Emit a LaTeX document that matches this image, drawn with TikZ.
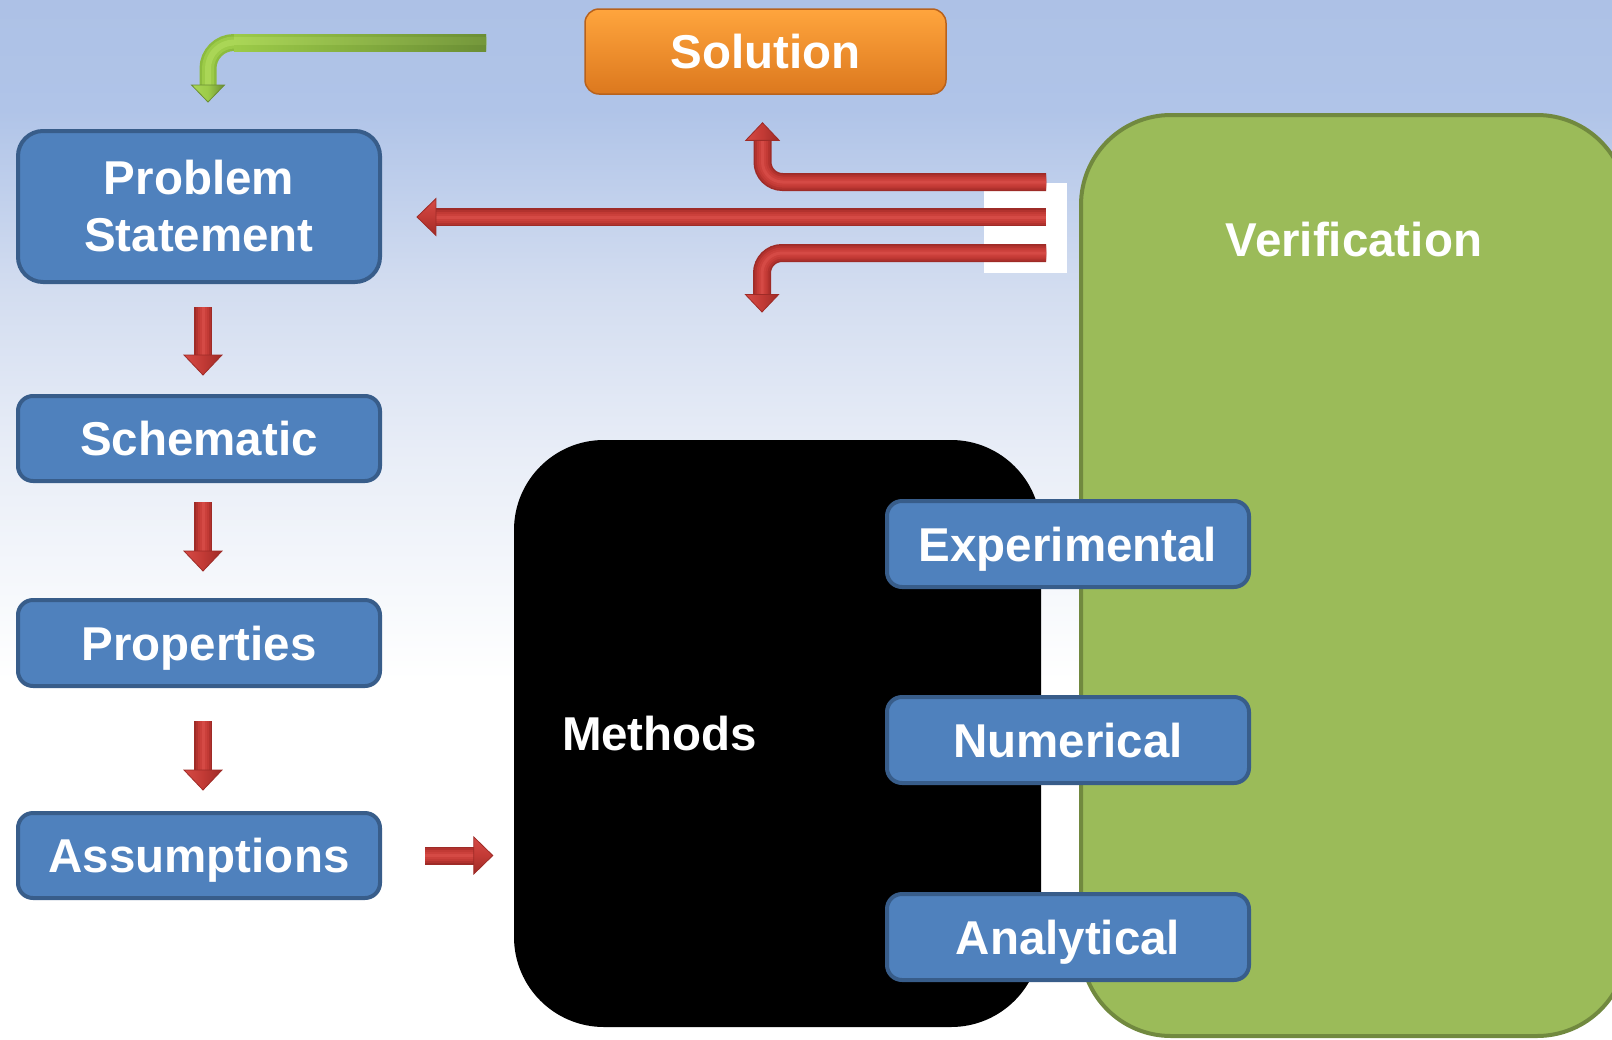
\documentclass[tikz,border=0pt]{standalone}
\usepackage{fontspec}
\setmainfont{Liberation Sans}
\usetikzlibrary{calc}

% palette
\definecolor{bgA}{HTML}{ADC1E6}
\definecolor{bgB}{HTML}{B0C4E8}
\definecolor{bgC}{HTML}{D3DDF0}
\definecolor{bgD}{HTML}{E8EDF7}
\definecolor{bgE}{HTML}{F7F9FC}
\definecolor{boxBlue}{HTML}{4F81BD}
\definecolor{boxEdge}{HTML}{385D8A}
\definecolor{verFill}{HTML}{9BBB59}
\definecolor{verEdge}{HTML}{71893F}
\definecolor{solTop}{HTML}{FFA53D}
\definecolor{solBot}{HTML}{DC781E}
\definecolor{solEdge}{HTML}{B8621C}
\definecolor{rEdge}{HTML}{9E2B27}
\definecolor{rOut}{HTML}{B2322E}
\definecolor{rMid}{HTML}{C23A35}
\definecolor{rIn}{HTML}{CB403B}
\definecolor{rHi}{HTML}{D54A45}
\definecolor{gEdge}{HTML}{8CBB3E}
\definecolor{gMid}{HTML}{9CCB48}
\definecolor{gHi}{HTML}{AAD656}
\definecolor{gDark}{HTML}{6B8E35}
\definecolor{gDarkHi}{HTML}{74973B}

\newcommand\boxfont{\bfseries\fontsize{47.5pt}{57pt}\selectfont}

\tikzset{
  box/.style={rectangle, rounded corners=15pt, fill=boxBlue, draw=boxEdge,
    line width=4pt, text=white, font=\boxfont, minimum width=362pt,
    inner sep=0pt, align=center},
  oneline/.style={text height=34pt, text depth=0pt},
  solbox/.style={rectangle, rounded corners=14pt, top color=solTop,
    bottom color=solBot, draw=solEdge, line width=1.5pt, text=white,
    font=\boxfont, minimum width=361pt, minimum height=85pt, inner sep=0pt},
  methbox/.style={rectangle, rounded corners=90pt, fill=black,
    minimum width=527pt, minimum height=587pt, text width=431pt,
    inner xsep=48pt, inner ysep=0pt, align=left, text=white, font=\boxfont},
  verbox/.style={rectangle, rounded corners=90pt, fill=verFill, draw=verEdge,
    line width=4pt, minimum width=546pt, minimum height=921pt, inner sep=0pt},
  label text/.style={text=white, font=\boxfont, inner sep=0pt},
  redtube/.style={draw=rEdge, line width=18pt, rounded corners=20pt,
    postaction={draw=rOut, line width=15pt},
    postaction={draw=rMid, line width=11pt},
    postaction={draw=rIn, line width=7pt},
    postaction={draw=rHi, line width=3pt}},
  greentube/.style={draw=gEdge, line width=17pt, rounded corners=26pt,
    postaction={draw=gMid, line width=12pt},
    postaction={draw=gHi, line width=6pt}},
  vhead/.style={left color=rHi, right color=rEdge, middle color=rMid,
    draw=rEdge, line width=0.8pt, line join=miter},
  hhead/.style={top color=rHi, bottom color=rEdge, middle color=rMid,
    draw=rEdge, line width=0.8pt, line join=miter},
  pics/headS/.style={code={\path[vhead] (0,0) -- (-19,-20) -- (19,-20) -- cycle;}},
  pics/headN/.style={code={\path[vhead] (0,0) -- (-19,20) -- (19,20) -- cycle;}},
  pics/headW/.style={code={\path[hhead] (0,0) -- (19,-18.5) -- (19,18.5) -- cycle;}},
  pics/headE/.style={code={\path[hhead] (0,0) -- (-19,-18.5) -- (-19,18.5) -- cycle;}},
  pics/gheadS/.style={code={\path[left color=gHi, right color=gDark, middle color=gMid,
    draw=gDark, line width=0.8pt, line join=miter] (0,0) -- (-16.5,-17) -- (16.5,-17) -- cycle;}},
}

\begin{document}
\begin{tikzpicture}[x=1pt, y=-1pt]
\useasboundingbox (0,0) rectangle (1612,1039);
\clip (0,0) rectangle (1612,1039);

% sky-to-white backdrop
\shade[top color=bgA, bottom color=bgB] (0,0) rectangle (1612,111);
\shade[top color=bgB, bottom color=bgC] (0,110) rectangle (1612,291);
\shade[top color=bgC, bottom color=bgD] (0,290) rectangle (1612,451);
\shade[top color=bgD, bottom color=bgE] (0,450) rectangle (1612,601);
\shade[top color=bgE, bottom color=white] (0,600) rectangle (1612,681);
\fill[white] (0,680) rectangle (1612,1039);

% large panels
\node[verbox] (ver) at (1354,575.5) {};
\node[label text, oneline] (verlabel) at ($(ver.north)+(0,126)$) {Verification};
\node[methbox, oneline] (meth) at (777.5,733.5) {Methods};

% process boxes
\node[box, rounded corners=25pt, minimum height=151pt] (ps) at (199,206.5) {Problem\\Statement};
\node[box, oneline, minimum height=85pt] (sch) at (199,438.5) {Schematic};
\node[box, oneline, minimum height=86pt] (prop) at (199,643) {Properties};
\node[box, oneline, minimum height=85pt] (asm) at (199,855.5) {Assumptions};

\node[box, oneline, minimum height=86pt] (exp) at (1068,544) {Experimental};
\node[box, oneline, minimum height=86pt] (num) at (1068,740) {Numerical};
\node[box, oneline, minimum height=86pt] (ana) at (1068,937) {Analytical};

\node[solbox, oneline] (sol) at (765.5,51.5) {Solution};

% panel behind the feedback tails
\node[fill=white, minimum width=83pt, minimum height=90pt, inner sep=0pt] (wr) at (1025.5,228) {};

% green entry arrow into the problem statement
\coordinate (g0) at (486,42.5);
\draw[greentube, shorten >=44pt] (g0) -| ($(ps.north)+(9,0)$);
\shade[left color=gMid, right color=gDark] ($(g0)+(-252,-8.5)$) rectangle ($(g0)+(0,8.5)$);
\shade[left color=gHi, right color=gDarkHi] ($(g0)+(-252,-5)$) rectangle ($(g0)+(0,2)$);
\pic at ($(ps.north)+(9,-27)$) {gheadS};

% downward chain
\draw[redtube, shorten <=23pt, shorten >=38pt] ($(ps.south)+(4,0)$) -- ($(sch.north)+(4,0)$);
\pic at ($(sch.north)+(4,-19)$) {headS};
\draw[redtube, shorten <=19pt, shorten >=46pt] ($(sch.south)+(4,0)$) -- ($(prop.north)+(4,0)$);
\pic at ($(prop.north)+(4,-27)$) {headS};
\draw[redtube, shorten <=33pt, shorten >=40pt] ($(prop.south)+(4,0)$) -- ($(asm.north)+(4,0)$);
\pic at ($(asm.north)+(4,-21)$) {headS};

% assumptions feed the methods
\draw[redtube, shorten <=43pt, shorten >=38pt] (asm.east) -- (asm.east -| meth.west);
\pic at ($(asm.east -| meth.west)+(-21,0)$) {headE};

% feedback arrows leaving verification
\coordinate (v1) at (1046,182);
\coordinate (v2) at (1046,217);
\coordinate (v3) at (1046,253);
\coordinate (dn) at (762,312);

\draw[redtube, shorten >=44pt] (v1) -| ($(sol.south)+(-3,0)$);
\pic[scale=0.88] at ($(sol.south)+(-3,28)$) {headN};

\draw[redtube, shorten >=53pt] (v2) -- (v2 -| ps.east);
\pic at ($(v2 -| ps.east)+(35,0)$) {headW};

\draw[redtube, shorten >=16pt] (v3) -| (dn);
\pic[scale=0.88] at (dn) {headS};
\end{tikzpicture}
\end{document}
